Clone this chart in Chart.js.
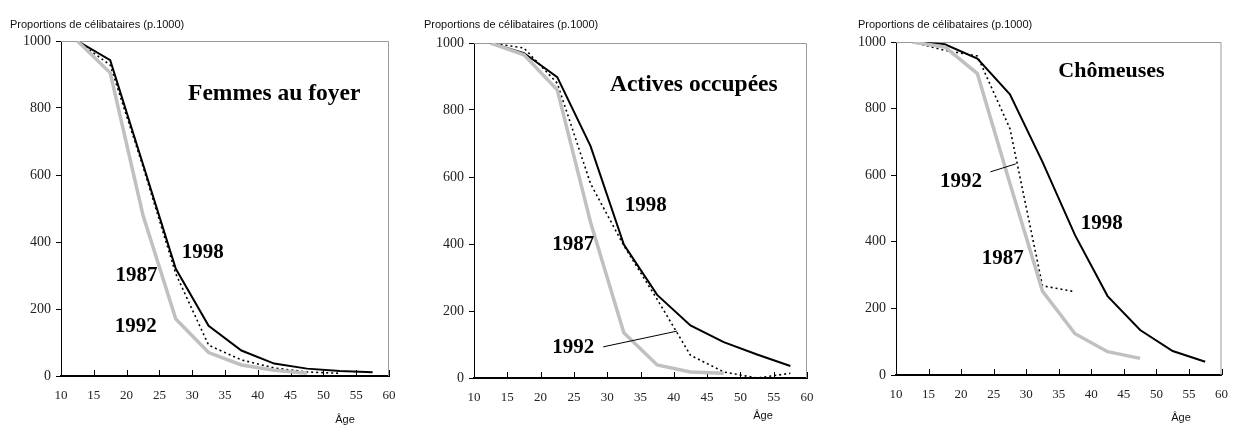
<!DOCTYPE html>
<html>
<head>
<meta charset="utf-8">
<script src="https://cdn.jsdelivr.net/npm/chart.js@4/dist/chart.umd.min.js"></script>
<style>
  html, body { margin: 0; padding: 0; background: #fff; overflow: hidden; }
  body { width: 1233px; height: 426px; position: relative; }
  .panel { position: absolute; top: 0; height: 426px; }
</style>
</head>
<body>
<div class="panel" style="left:0px;width:410px"><canvas id="c1" width="410" height="426"></canvas></div>
<div class="panel" style="left:410px;width:420px"><canvas id="c2" width="420" height="426"></canvas></div>
<div class="panel" style="left:830px;width:410px"><canvas id="c3" width="410" height="426"></canvas></div>
<script>
// ages (mid-point of 5-year groups)
const ages = [12.5, 17.5, 22.5, 27.5, 32.5, 37.5, 42.5, 47.5, 52.5, 57.5]
const xTickValues = [10, 15, 20, 25, 30, 35, 40, 45, 50, 55, 60]
const yTickValues = [0, 200, 400, 600, 800, 1000]

// Femmes au foyer
const foyer1987 = [1000, 905, 480, 170, 70, 33, 17, 8, null, null]
const foyer1992 = [1000, 928, 625, 305, 92, 48, 24, 12, 8, null]
const foyer1998 = [1000, 943, 632, 320, 150, 76, 37, 22, 15, 11]

// Actives occupées
const occupees1987 = [1000, 965, 860, 465, 135, 39, 18, 14, null, null]
const occupees1992 = [1000, 985, 880, 580, 395, 235, 68, 18, 0, 14]
const occupees1998 = [1000, 970, 898, 692, 398, 248, 157, 107, 70, 36]

// Chômeuses
const chomeuses1987 = [1000, 985, 905, 575, 252, 124, 70, 50, null, null]
const chomeuses1992 = [1000, 975, 958, 740, 268, 250, null, null, null, null]
const chomeuses1998 = [1000, 993, 950, 843, 640, 420, 237, 135, 72, 40]

const yTitle = "Proportions de célibataires (p.1000)"
const xTitle = "Âge"

const pts = (arr) => ages.map((a, i) => ({ x: a, y: arr[i] }))

const makeSets = (s87, s92, s98) => [
    { label: "1987", data: pts(s87), borderColor: "#c0c0c0", borderWidth: 3.5 },
    { label: "1992", data: pts(s92), borderColor: "#000", borderWidth: 1.6, borderDash: [2, 3] },
    { label: "1998", data: pts(s98), borderColor: "#000", borderWidth: 2 }
]

const panels = [
    {
        id: "c1", width: 410, plot: { left: 61, top: 41, right: 389, bottom: 376 },
        sets: makeSets(foyer1987, foyer1992, foyer1998),
        yTitleX: 10, xTitleX: 345, xTitleY: 420,
        title: { text: "Femmes au foyer", x: 42.5, y: 842, size: 23.5 },
        labels: [
            { text: "1998", x: 31.6, y: 367 },
            { text: "1987", x: 21.5, y: 301 },
            { text: "1992", x: 21.4, y: 149 }
        ],
        leader: null
    },
    {
        id: "c2", width: 420, plot: { left: 64, top: 43, right: 397, bottom: 378 },
        sets: makeSets(occupees1987, occupees1992, occupees1998),
        yTitleX: 14, xTitleX: 353, xTitleY: 416,
        title: { text: "Actives occupées", x: 43.0, y: 875, size: 23.5 },
        labels: [
            { text: "1998", x: 35.8, y: 516 },
            { text: "1987", x: 24.9, y: 397 },
            { text: "1992", x: 24.9, y: 90 }
        ],
        leader: [29.4, 93, 40.5, 140]
    },
    {
        id: "c3", width: 410, plot: { left: 66, top: 42, right: 397, bottom: 375 },
        sets: makeSets(chomeuses1987, chomeuses1992, chomeuses1998),
        yTitleX: 28, xTitleX: 351, xTitleY: 418,
        title: { text: "Chômeuses", x: 43.1, y: 913, size: 22 },
        labels: [
            { text: "1992", x: 20.0, y: 580 },
            { text: "1998", x: 41.6, y: 456 },
            { text: "1987", x: 26.4, y: 351 }
        ],
        leader: [24.5, 610, 28.4, 634]
    }
]

const serif = "'Liberation Serif', 'Times New Roman', serif"
const sans = "'Liberation Sans', Arial, sans-serif"

panels.forEach(p => {
    const decor = {
        id: "decor" + p.id,
        beforeDatasetsDraw(chart) {
            const ctx = chart.ctx, a = chart.chartArea, xs = chart.scales.x
            ctx.save()
            // gray frame top + right
            ctx.strokeStyle = "#9a9a9a"
            ctx.lineWidth = 1
            ctx.beginPath()
            ctx.moveTo(a.left, a.top + 0.5)
            ctx.lineTo(a.right - 0.5, a.top + 0.5)
            ctx.lineTo(a.right - 0.5, a.bottom)
            ctx.stroke()
            // inward x ticks
            ctx.strokeStyle = "#000"
            ctx.beginPath()
            xTickValues.forEach(v => {
                const px = Math.round(xs.getPixelForValue(v)) + 0.5
                ctx.moveTo(px, a.bottom)
                ctx.lineTo(px, a.bottom - 6)
            })
            ctx.stroke()
            ctx.restore()
        },
        afterDraw(chart) {
            const ctx = chart.ctx, xs = chart.scales.x, ys = chart.scales.y
            ctx.save()
            ctx.fillStyle = "#111"
            ctx.textBaseline = "middle"
            ctx.font = "11px " + sans
            ctx.textAlign = "left"
            ctx.fillText(yTitle, p.yTitleX, 25)
            ctx.textAlign = "center"
            ctx.fillText(xTitle, p.xTitleX, p.xTitleY)
            ctx.fillStyle = "#000"
            ctx.font = "bold " + p.title.size + "px " + serif
            ctx.fillText(p.title.text, xs.getPixelForValue(p.title.x), ys.getPixelForValue(p.title.y))
            ctx.font = "bold 21px " + serif
            p.labels.forEach(l => {
                ctx.fillText(l.text, xs.getPixelForValue(l.x), ys.getPixelForValue(l.y))
            })
            if (p.leader) {
                ctx.strokeStyle = "#000"
                ctx.lineWidth = 1
                ctx.beginPath()
                ctx.moveTo(xs.getPixelForValue(p.leader[0]), ys.getPixelForValue(p.leader[1]))
                ctx.lineTo(xs.getPixelForValue(p.leader[2]), ys.getPixelForValue(p.leader[3]))
                ctx.stroke()
            }
            ctx.restore()
        }
    }

    new Chart(document.getElementById(p.id).getContext("2d"), {
        type: "line",
        data: { datasets: p.sets },
        options: {
            responsive: false,
            animation: false,
            devicePixelRatio: 1,
            layout: { padding: { top: p.plot.top, right: p.width - p.plot.right, left: 0, bottom: 0 } },
            elements: { point: { radius: 0 }, line: { tension: 0, borderCapStyle: "butt" } },
            plugins: { legend: { display: false }, tooltip: { enabled: false } },
            scales: {
                x: {
                    type: "linear", min: 10, max: 60,
                    afterBuildTicks: s => { s.ticks = xTickValues.map(v => ({ value: v })) },
                    afterFit: s => { s.height = 426 - p.plot.bottom },
                    grid: { drawOnChartArea: false, drawTicks: false },
                    border: { color: "#000", width: 2 },
                    ticks: { padding: 12, color: "#222", font: { family: serif, size: 13 }, maxRotation: 0, autoSkip: false,
                             callback: v => String(v) }
                },
                y: {
                    min: 0, max: 1000,
                    afterBuildTicks: s => { s.ticks = yTickValues.map(v => ({ value: v })) },
                    afterFit: s => { s.width = p.plot.left },
                    grid: { drawOnChartArea: false, tickLength: 5, color: "#000" },
                    border: { color: "#000", width: 1 },
                    ticks: { padding: 5, color: "#222", font: { family: serif, size: 14 }, callback: v => String(v) }
                }
            }
        },
        plugins: [decor]
    })
})
</script>
</body>
</html>
